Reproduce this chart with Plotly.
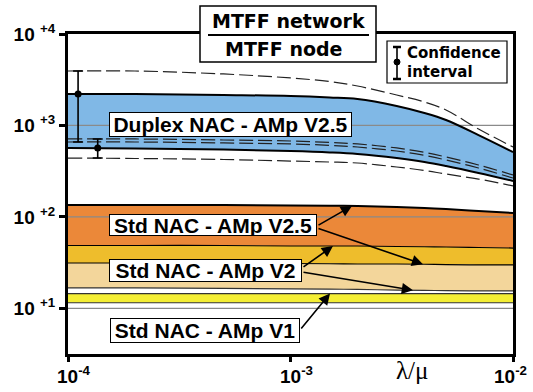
import numpy as np
import plotly.graph_objects as go

# ---------------- data ----------------
lam_mu = [1e-4, 2e-4, 5e-4, 1e-3, 1.5e-3, 2e-3, 3e-3, 4e-3, 5e-3, 7e-3, 1e-2]

duplex_hi        = [2208, 2208, 2153, 2100, 2024, 1946, 1633, 1368, 1147, 785, 512]
duplex_hi_ci_up  = [3940, 3940, 3655, 3305, 3020, 2698, 2153, 1803, 1476, 914, 581]
duplex_hi_ci_lo  = [659, 659, 643, 627, 606, 581, 525, 470, 419, 342, 266]
duplex_lo_ci_up  = [711, 711, 693, 676, 652, 627, 567, 507, 452, 369, 287]
duplex_lo        = [567, 559, 546, 525, 507, 487, 440, 399, 360, 302, 247]
duplex_lo_ci_lo  = [440, 435, 424, 408, 398, 388, 351, 322, 294, 259, 218]

std_v25_hi = [134.8, 134.8, 134.8, 133.1, 132.3, 131.5, 128.2, 125.0, 121.9, 115.9, 110.2]
std_v25_lo = [31.3, 31.3, 31.3, 30.9, 30.7, 30.5, 30.5, 30.3, 30.1, 29.8, 29.8]
std_v2_hi  = [48.6, 48.6, 48.6, 48.0, 48.0, 48.0, 47.4, 47.1, 46.8, 46.2, 45.6]
std_v2_lo  = [16.7, 16.7, 16.5, 16.3, 16.2, 16.1, 15.8, 15.7, 15.6, 15.5, 15.5]
std_v1_hi  = [14.5, 14.5, 14.5, 14.5, 14.5, 14.5, 14.5, 14.5, 14.5, 14.5, 14.5]
std_v1_lo  = [11.5, 11.5, 11.5, 11.5, 11.5, 11.5, 11.5, 11.5, 11.5, 11.5, 11.5]

ci_x = [1.11e-4, 1.36e-4]   # positions of the two confidence-interval bars

grid_y = [10, 100, 1000]
y_tickvals = [10, 100, 1000, 10000]
y_ticktext = ["<b>10 <sup>+1</sup></b>", "<b>10 <sup>+2</sup></b>",
              "<b>10 <sup>+3</sup></b>", "<b>10 <sup>+4</sup></b>"]
x_tickvals = [1e-4, 1e-3, 1e-2]
x_ticktext = ["<b>10<sup>-4</sup></b>", "<b>10<sup>-3</sup></b>", "<b>10<sup>-2</sup></b>"]

# ---------------- style ----------------
C_BLUE = "#80B8E6"
C_ORANGE = "#EB8839"
C_OVER = "#EEBD2C"
C_TAN = "#F3D69B"
C_YELLOW = "#F4EE34"
FONT = "Liberation Sans, Arial, sans-serif"
WIDE = "DejaVu Sans, sans-serif"

L, R, T, B = 68, 20, 34, 38
W, H = 533, 392
PW, PH = W - L - R, H - T - B


def px(x):
    return (x - L) / PW


def py(y):
    return (H - B - y) / PH


def lx(x):  # pixel -> log10 x data
    return -4 + (x - L) / PW * 2


def ly(y):  # pixel -> log10 y data
    return 4 - (y - T) / PH * 3.5


fig = go.Figure()


def band(lo, hi, color):
    fig.add_trace(go.Scatter(x=lam_mu, y=lo, mode="lines", line=dict(width=0, shape="spline"),
                             hoverinfo="skip", showlegend=False))
    fig.add_trace(go.Scatter(x=lam_mu, y=hi, mode="lines", line=dict(width=0, shape="spline"),
                             fill="tonexty", fillcolor=color, hoverinfo="skip", showlegend=False))


band(duplex_lo, duplex_hi, C_BLUE)
band(std_v2_hi, std_v25_hi, C_ORANGE)
band(std_v25_lo, std_v2_hi, C_OVER)
band(std_v2_lo, std_v25_lo, C_TAN)
band(std_v1_lo, std_v1_hi, C_YELLOW)

# grid lines (drawn above the fills, as in the reference)
for g in grid_y:
    fig.add_trace(go.Scatter(x=[lam_mu[0], lam_mu[-1]], y=[g, g], mode="lines",
                             line=dict(color="#8a8a8a", width=1.2), hoverinfo="skip", showlegend=False))


def line(y, color="black", width=1.2, dash="solid"):
    fig.add_trace(go.Scatter(x=lam_mu, y=y, mode="lines",
                             line=dict(color=color, width=width, dash=dash, shape="spline"),
                             hoverinfo="skip", showlegend=False))


DASH = "14px,5px"
line(duplex_hi_ci_up, "#222", 1.2, DASH)
line(duplex_hi_ci_lo, "#222", 1.2, DASH)
line(duplex_lo_ci_up, "#222", 1.2, DASH)
line(duplex_lo_ci_lo, "#222", 1.2, DASH)
line(duplex_hi, "black", 2)
line(duplex_lo, "black", 2)
line(std_v25_hi, "black", 2)
line(std_v2_hi, "black", 1.2)
line(std_v25_lo, "black", 1.2)
line(std_v2_lo, "#333", 1.2)
line(std_v1_hi, "#333", 1.2)
line(std_v1_lo, "#333", 1.2)

# confidence interval bars
ci_c = [duplex_hi[0], duplex_lo[0]]
ci_up = [duplex_hi_ci_up[0] - duplex_hi[0], duplex_lo_ci_up[0] - duplex_lo[0]]
ci_dn = [duplex_hi[0] - duplex_hi_ci_lo[0], duplex_lo[0] - duplex_lo_ci_lo[0]]
fig.add_trace(go.Scatter(x=ci_x, y=ci_c, mode="markers",
                         marker=dict(color="black", size=7),
                         error_y=dict(type="data", symmetric=False, array=ci_up, arrayminus=ci_dn,
                                      color="black", thickness=1.6, width=5),
                         hoverinfo="skip", showlegend=False))

shapes = []
annots = []


def text(x, y, s, family, size, xanchor="center", **kw):
    annots.append(dict(xref="paper", yref="paper", x=px(x), y=py(y), text=s, showarrow=False,
                       xanchor=xanchor, yanchor="middle",
                       font=dict(family=family, size=size, color="black"), **kw))


# title box
shapes.append(dict(type="rect", xref="paper", yref="paper", x0=px(200), x1=px(376), y0=py(62), y1=py(6),
                   line=dict(color="black", width=1.5), fillcolor="white", layer="above"))
shapes.append(dict(type="line", xref="paper", yref="paper", x0=px(208), x1=px(369), y0=py(35), y1=py(35),
                   line=dict(color="black", width=2), layer="above"))
text(288, 21, "<b>MTFF network</b>", WIDE, 19)
text(284, 49, "<b>MTFF node</b>", WIDE, 19)

# confidence legend box
shapes.append(dict(type="rect", xref="paper", yref="paper", x0=px(387), x1=px(507), y0=py(83), y1=py(41),
                   line=dict(color="black", width=1.2), fillcolor="white", layer="above"))
shapes.append(dict(type="line", xref="paper", yref="paper", x0=px(397), x1=px(397), y0=py(79), y1=py(47),
                   line=dict(color="black", width=1.6), layer="above"))
for yy in (47, 79):
    shapes.append(dict(type="line", xref="paper", yref="paper", x0=px(393), x1=px(401), y0=py(yy), y1=py(yy),
                       line=dict(color="black", width=2.5), layer="above"))
shapes.append(dict(type="circle", xref="paper", yref="paper", x0=px(394), x1=px(400), y0=py(65), y1=py(59),
                   line=dict(color="black", width=1), fillcolor="black", layer="above"))
text(405, 53, "<b>Confidence</b>", WIDE, 15, xanchor="left")
text(405, 72, "<b>interval</b>", WIDE, 15, xanchor="left")


# band labels
def label(s, x0, x1, y0, y1):
    text((x0 + x1) / 2, (y0 + y1) / 2, "<b>%s</b>" % s, FONT, 21,
         width=x1 - x0 - 2, height=y1 - y0 - 2,
         bgcolor="white", bordercolor="black", borderwidth=1, borderpad=0)


label("Duplex NAC - AMp V2.5", 109, 352, 112, 137)
label("Std NAC - AMp V2.5", 109, 317, 214, 236)
label("Std NAC - AMp V2", 109, 302, 259, 282)
label("Std NAC - AMp V1", 110, 300, 318, 343)

lx_data = np.log10(lam_mu)


def arrow(tip_px_x, series, tail):
    tx = lx(tip_px_x)
    ty = float(np.interp(tx, lx_data, np.log10(series)))
    annots.append(dict(x=tx, y=ty, xref="x", yref="y", ax=lx(tail[0]), ay=ly(tail[1]),
                       axref="x", ayref="y", showarrow=True, arrowhead=2, arrowsize=1.4,
                       arrowwidth=1.6, arrowcolor="black", standoff=0, text=""))


arrow(352, std_v25_hi, (317, 226))
arrow(423, std_v25_lo, (317, 228))
arrow(333, std_v2_hi, (302, 268))
arrow(413, std_v2_lo, (302, 272))
arrow(330, std_v1_hi, (300, 330))

# x tick labels (placed as in the reference, last one pulled inside the page)
for xc, s in zip([74, 296, 510], x_ticktext):
    text(xc, 375, s, FONT, 19)

# x axis title
text(412, 370, "λ/μ", "Liberation Serif, DejaVu Serif, serif", 25)

fig.update_layout(
    width=W, height=H, margin=dict(l=L, r=R, t=T, b=B, autoexpand=False),
    paper_bgcolor="white", plot_bgcolor="white",
    font=dict(family=FONT, color="black"),
    showlegend=False, shapes=shapes, annotations=annots,
    xaxis=dict(type="log", range=[-4, -2], tickvals=x_tickvals, showticklabels=False, automargin=False,
               showgrid=False, zeroline=False, showline=True, linecolor="black", linewidth=3, mirror=True,
               ticks="outside", ticklen=5, tickwidth=3, tickcolor="black"),
    yaxis=dict(type="log", range=[0.5, 4], tickvals=y_tickvals, ticktext=y_ticktext, automargin=False,
               showgrid=False, zeroline=False, showline=True, linecolor="black", linewidth=3, mirror=True,
               ticks="outside", ticklen=6, tickwidth=3, tickcolor="black",
               tickfont=dict(family=FONT, size=19, color="black")),
)

fig.write_html("out.html", config={"displayModeBar": False},
               post_script="document.body.style.margin='0px';")
